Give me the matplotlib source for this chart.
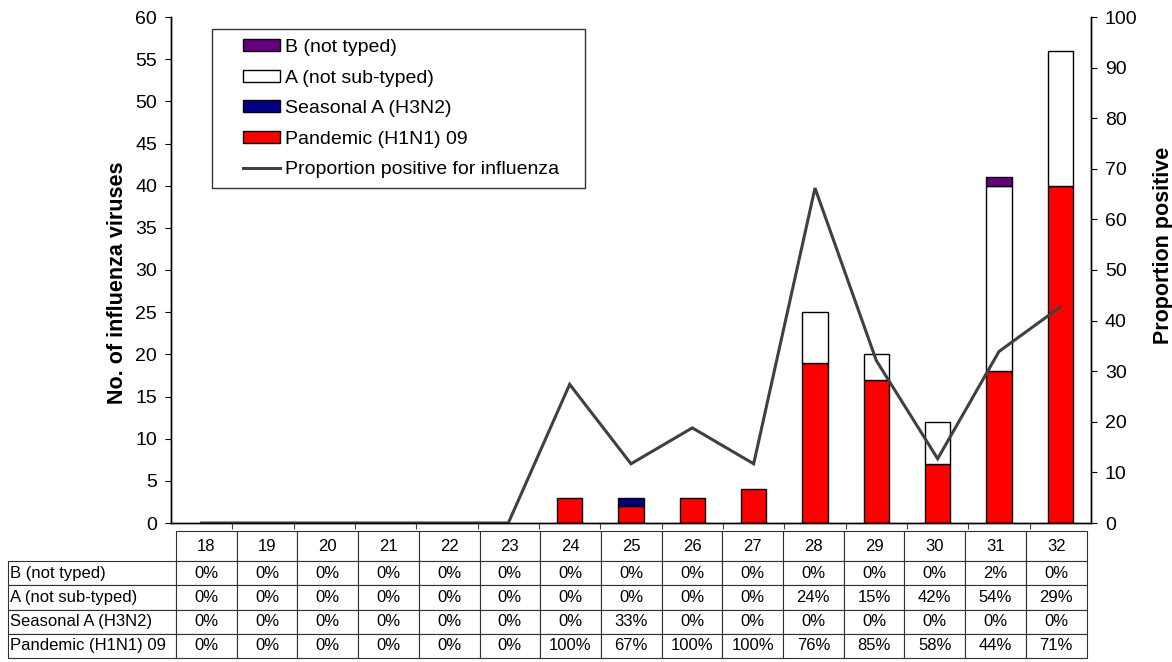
import matplotlib.pyplot as plt
import matplotlib.ticker as mticker
from matplotlib.lines import Line2D
from matplotlib.patches import Patch
from matplotlib.legend_handler import HandlerPatch, HandlerLine2D
import numpy as np

plt.rcParams['font.family'] = ['Liberation Sans', 'DejaVu Sans']

weeks = [18, 19, 20, 21, 22, 23, 24, 25, 26, 27, 28, 29, 30, 31, 32]
pandemic = [0, 0, 0, 0, 0, 0, 3, 2, 3, 4, 19, 17, 7, 18, 40]
seasonal = [0, 0, 0, 0, 0, 0, 0, 1, 0, 0, 0, 0, 0, 0, 0]
a_untyped = [0, 0, 0, 0, 0, 0, 0, 0, 0, 0, 6, 3, 5, 22, 16]
b_untyped = [0, 0, 0, 0, 0, 0, 0, 0, 0, 0, 0, 0, 0, 1, 0]
prop_pos = [0, 0, 0, 0, 0, 0, 27.4, 11.7, 18.8, 11.7, 66.2, 32.1, 12.7, 33.9, 42.7]

row_names = ["B (not typed)", "A (not sub-typed)", "Seasonal A (H3N2)", "Pandemic (H1N1) 09"]

red = "#ff0000"
navy = "#000080"
purple = "#660080"
linecol = "#404040"

fig = plt.figure(figsize=(11.72, 6.62), dpi=100)
ax = fig.add_axes([171 / 1172, 1 - 523 / 662, 920 / 1172, 506 / 662])
ax2 = ax.twinx()

x = np.arange(len(weeks))
p = np.array(pandemic)
s = np.array(seasonal)
a = np.array(a_untyped)
b = np.array(b_untyped)
w = 0.41
kw = dict(width=w, edgecolor="black", linewidth=1.0)
ax.bar(x, p, color=red, **kw)
ax.bar(x, s, bottom=p, color=navy, **kw)
ax.bar(x, a, bottom=p + s, color="white", **kw)
ax.bar(x, b, bottom=p + s + a, color=purple, **kw)
# hide zero-height slivers
for c in ax.patches:
    if c.get_height() == 0:
        c.set_visible(False)

ax2.plot(x, prop_pos, color=linecol, linewidth=2.2, solid_joinstyle="miter")

ax.set_xlim(-0.5, len(weeks) - 0.5)
ax.set_ylim(0, 60)
ax2.set_ylim(0, 100)
ax.yaxis.set_major_locator(mticker.MultipleLocator(5))
ax2.yaxis.set_major_locator(mticker.MultipleLocator(10))
ax.set_xticks(np.arange(0.5, len(weeks) - 1, 1))
ax.set_xticklabels([])
ax.tick_params(axis="x", direction="out", length=4, color="#404040")
ax.tick_params(axis="y", direction="out", length=4, labelsize=14, pad=6)
ax2.tick_params(axis="y", direction="out", length=4, labelsize=14, pad=6)
for a_ in (ax, ax2):
    a_.spines["top"].set_visible(False)
    for sp in ("left", "right", "bottom"):
        a_.spines[sp].set_linewidth(1.0)

ax.set_ylabel("No. of influenza viruses", fontsize=15.5, fontweight="bold")
ax.yaxis.set_label_coords(-0.0467, 0.474)
ax2.set_ylabel("Proportion positive", fontsize=15.5, fontweight="bold")
ax2.yaxis.set_label_coords(1.0674, 0.549)

handles = [
    Patch(facecolor=purple, edgecolor="black", linewidth=1.0),
    Patch(facecolor="white", edgecolor="black", linewidth=1.0),
    Patch(facecolor=navy, edgecolor="black", linewidth=1.0),
    Patch(facecolor=red, edgecolor="black", linewidth=1.0),
    Line2D([], [], color=linecol, linewidth=2.2),
]
labels = ["B (not typed)", "A (not sub-typed)", "Seasonal A (H3N2)",
          "Pandemic (H1N1) 09", "Proportion positive for influenza"]
hmap = {Patch: HandlerPatch(xpad=1.08), Line2D: HandlerLine2D(xpad=1.08)}
leg = ax2.legend(handles, labels, loc="upper left",
                 bbox_to_anchor=(0.0446, 0.6, 0.4054, 0.376), mode="expand",
                 borderaxespad=0, fontsize=14, frameon=True, fancybox=False,
                 handlelength=2.98, handleheight=0.6, handletextpad=0.26,
                 labelspacing=0.7, borderpad=0.5, handler_map=hmap)
leg.get_frame().set_edgecolor("black")
leg.get_frame().set_linewidth(1.0)

# percentage table below the axes
totals = p + s + a + b
shares = [b, a, s, p]
cell_text = []
for name, vals in zip(row_names, shares):
    row = [name]
    for v, t in zip(vals, totals):
        row.append("%d%%" % round(100 * v / t) if t else "0%")
    cell_text.append(row)
header = [""] + [str(wk) for wk in weeks]

col_w = [168] + [60.7] * len(weeks)
tw = sum(col_w)
tab = ax.table(cellText=cell_text, colLabels=header,
               colWidths=[c / tw for c in col_w],
               cellLoc="center", colLoc="center",
               bbox=[(8 - 171) / 920, -(658 - 523) / 506, tw / 920, (658 - 531) / 506])
tab.auto_set_font_size(False)
tab.set_fontsize(12)
for (r, c), cell in tab.get_celld().items():
    cell.set_linewidth(0.8)
    cell.set_edgecolor("#303030")
    cell.set_height(30 if r == 0 else 24)
    if r == 0 and c == 0:
        cell.set_linewidth(0)
    if c == 0 and r > 0:
        cell.get_text().set_horizontalalignment("left")
        cell.PAD = 0.012

fig.savefig("out.png", dpi=100)
